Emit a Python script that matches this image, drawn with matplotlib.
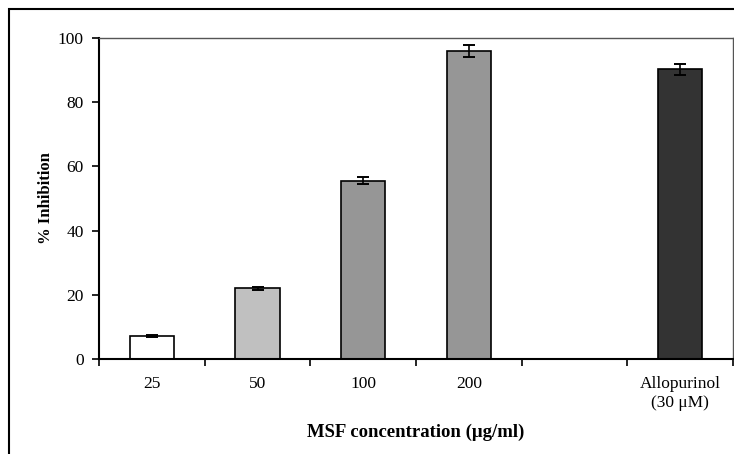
import numpy as np
import matplotlib.pyplot as plt
from matplotlib.patches import Rectangle

plt.rc("font", family="Liberation Serif", size=12.5)

labels = ["25", "50", "100", "200", "", "Allopurinol\n(30 \u03bcM)"]
values = [7.2, 22.0, 55.6, 96.0, np.nan, 90.2]
errors = [0.3, 0.5, 1.0, 1.8, np.nan, 1.8]
colors = ["#ffffff", "#c0c0c0", "#969696", "#969696", "#ffffff", "#333333"]

fig = plt.figure(figsize=(7.34, 4.54), dpi=100)
ax = fig.add_axes([99 / 734, 1 - 359 / 454, 634 / 734, 321 / 454])

x = np.arange(len(labels))
ax.bar(x, values, width=0.42, color=colors, edgecolor="black", linewidth=1.2,
       yerr=errors, capsize=4, error_kw={"elinewidth": 1.2, "capthick": 1.4})

ax.set_xlim(-0.5, len(labels) - 0.5)
ax.set_ylim(0, 100)
ax.set_yticks([0, 20, 40, 60, 80, 100])
ax.set_xticks(x)
ax.set_xticklabels(labels, linespacing=1.3)
ax.set_xticks(np.arange(len(labels) + 1) - 0.5, minor=True)
ax.tick_params(axis="x", which="major", length=0, pad=12)
ax.tick_params(axis="x", which="minor", length=5, width=1.2, direction="out")
ax.tick_params(axis="y", length=5, width=1.2, direction="out", pad=6)

for side in ["left", "bottom"]:
    ax.spines[side].set_linewidth(1.5)
for side in ["top", "right"]:
    ax.spines[side].set_linewidth(1.0)
    ax.spines[side].set_color("#555555")

ax.set_xlabel("MSF concentration (\u03bcg/ml)", fontweight="bold", fontsize=13.5, labelpad=9)
ax.set_ylabel("% Inhibition", fontweight="bold", fontsize=12, labelpad=3)

fig.patches.append(Rectangle((9 / 734, -0.1), 1.2, 1.1 - 9 / 454,
                             transform=fig.transFigure, fill=False,
                             edgecolor="black", linewidth=1.5, clip_on=False))

fig.savefig("out.png", dpi=100)
plt.close(fig)
